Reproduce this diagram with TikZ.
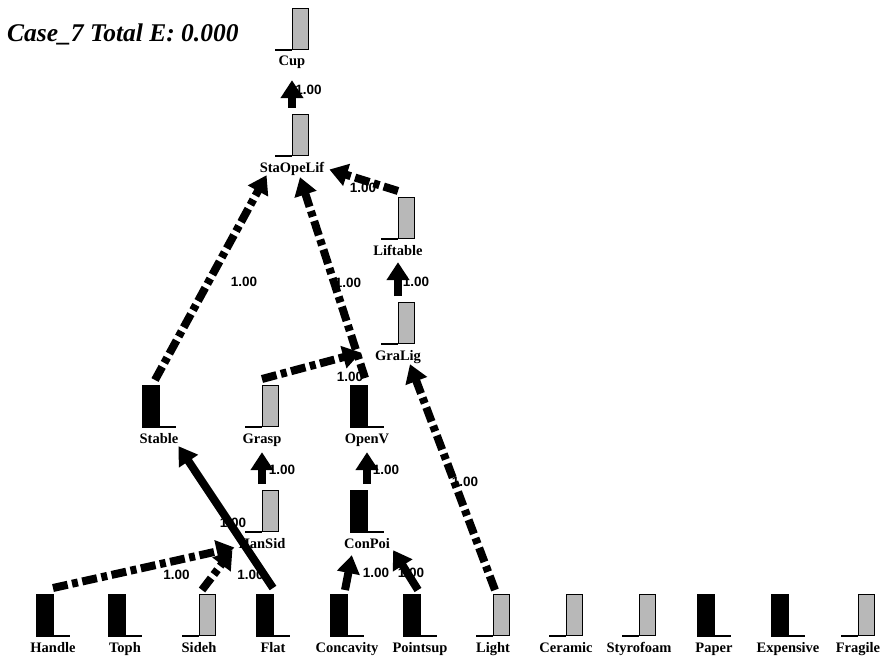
\documentclass[tikz,border=0pt]{standalone}
\usepackage{fontspec}
\setmainfont{Liberation Serif}
\newfontfamily\wfont{Liberation Sans}
\usetikzlibrary{arrows.meta,calc}

\tikzset{
  lbl/.style={font=\fontsize{14.5}{16}\selectfont\bfseries, inner sep=0pt,
    text height=10pt, text depth=3pt, anchor=base},
  wt/.style={font=\wfont\fontsize{13.5}{15}\selectfont\bfseries, inner sep=0pt},
  onbar/.style={fill=black, draw=black, line width=0.5pt, minimum width=17pt,
    minimum height=42pt, inner sep=0pt, anchor=south},
  offbar/.style={fill=black!28, draw=black, line width=1.2pt, minimum width=16pt,
    minimum height=41pt, inner sep=0pt, anchor=south},
  axisline/.style={line width=2pt},
  link/.style={line width=8pt, -{Triangle[length=18pt,width=22pt]}},
  dlink/.style={link, dash pattern=on 15pt off 4.5pt on 6pt off 4.5pt},
}

% unit whose bar is "on": black bar left of the junction, axis to the right
\newcommand\onunit[4]{%
  \node[onbar] (#1b) at ({#2-8.5},#3) {};
  \draw[axisline] (#2,#3) -- ({#2+17},#3);
  \coordinate (#1t) at (#2,{#3-42});
  \node[lbl] (#1) at (#2,{#3+16}) {#4};
}
% unit whose bar is "off": grey bar right of the junction, axis to the left
\newcommand\offunit[4]{%
  \node[offbar] (#1b) at ({#2+8.5},#3) {};
  \draw[axisline] ({#2-17},#3) -- (#2,#3);
  \coordinate (#1t) at (#2,{#3-42});
  \node[lbl] (#1) at (#2,{#3+16}) {#4};
}

\begin{document}
\begin{tikzpicture}[x=1pt,y=-1pt]
\fill[white] (0,0) rectangle (884,658);
\useasboundingbox (0,0) rectangle (884,658);

\node[font=\fontsize{25.5}{28}\selectfont\bfseries\itshape, anchor=west, inner sep=0pt]
  (title) at (7,34) {Case\_7 Total E: 0.000};

% network units
\offunit{Cup}{292}{50}{Cup}
\offunit{StaOpeLif}{292}{156}{StaOpeLif}
\offunit{Liftable}{398}{239}{Liftable}
\offunit{GraLig}{398}{344}{GraLig}
\onunit{Stable}{159}{427}{Stable}
\offunit{Grasp}{262}{427}{Grasp}
\onunit{OpenV}{367}{427}{OpenV}
\offunit{HanSid}{262}{532}{HanSid}
\onunit{ConPoi}{367}{532}{ConPoi}

% input units
\onunit{Handle}{53}{636}{Handle}
\onunit{Toph}{125}{636}{Toph}
\offunit{Sideh}{199}{636}{Sideh}
\onunit{Flat}{273}{636}{Flat}
\onunit{Concavity}{347}{636}{Concavity}
\onunit{Pointsup}{420}{636}{Pointsup}
\offunit{Light}{493}{636}{Light}
\offunit{Ceramic}{566}{636}{Ceramic}
\offunit{Styrofoam}{639}{636}{Styrofoam}
\onunit{Paper}{714}{636}{Paper}
\onunit{Expensive}{788}{636}{Expensive}
\offunit{Fragile}{858}{636}{Fragile}

% link weights
\node[wt] (w1)  at (308.5,90) {1.00};
\node[wt] (w2)  at (416,282) {1.00};
\node[wt] (w3)  at (282,470) {1.00};
\node[wt] (w4)  at (386,470) {1.00};
\node[wt] (w5)  at (176.5,575) {1.00};
\node[wt] (w6)  at (250.5,575) {1.00};
\node[wt] (w7)  at (233,523) {1.00};
\node[wt] (w8)  at (376,573) {1.00};
\node[wt] (w9)  at (411,573) {1.00};
\node[wt] (w10) at (350,377) {1.00};
\node[wt] (w11) at (348,283) {1.00};
\node[wt] (w12) at (244,282) {1.00};
\node[wt] (w13) at (465,482) {1.00};
\node[wt] (w14) at (363,188) {1.00};

% links
\draw[link]  ($(StaOpeLift)+(0,-6)$) -- ($(Cup.south)+(0,11)$);
\draw[link]  ($(GraLigt)+(0,-6)$) -- ($(Liftable.south)+(0,4)$);
\draw[link]  ($(HanSidt)+(0,-6)$) -- ($(Grasp.south)+(0,6)$);
\draw[link]  ($(ConPoit)+(0,-6)$) -- ($(OpenV.south)+(0,6)$);
\draw[dlink] ($(Handlet)+(0,-6)$) -- ($(HanSid.west)+(-4,3)$);
\draw[dlink] ($(Sideht)+(3,-4)$) -- ($(HanSid.south west)+(-6,-1)$);
\draw[link]  ($(Flatt)+(0,-6)$) -- (Stable.south east);
\draw[link]  ($(Concavityt)+(-2,-4)$) -- ($(ConPoi.south west)+(8,4)$);
\draw[link]  ($(Pointsupt)+(-2,-4)$) -- ($(ConPoi.south east)+(3,-1)$);
\draw[dlink] ($(Graspt)+(0,-6)$) -- ($(GraLig.west)+(-14,-4)$);
\draw[dlink] ($(OpenVt)+(-2,-7)$) -- ($(StaOpeLif.south)+(8,2)$);
\draw[dlink] ($(Stablet)+(-4,-5)$) -- ($(StaOpeLif.south west)+(7,0)$);
\draw[dlink] ($(Lightt)+(2,-4)$) -- ($(GraLig.south)+(12,1)$);
\draw[dlink] ($(Liftablet)+(0,-6)$) -- ($(StaOpeLif.east)+(5,1)$);
\end{tikzpicture}
\end{document}
